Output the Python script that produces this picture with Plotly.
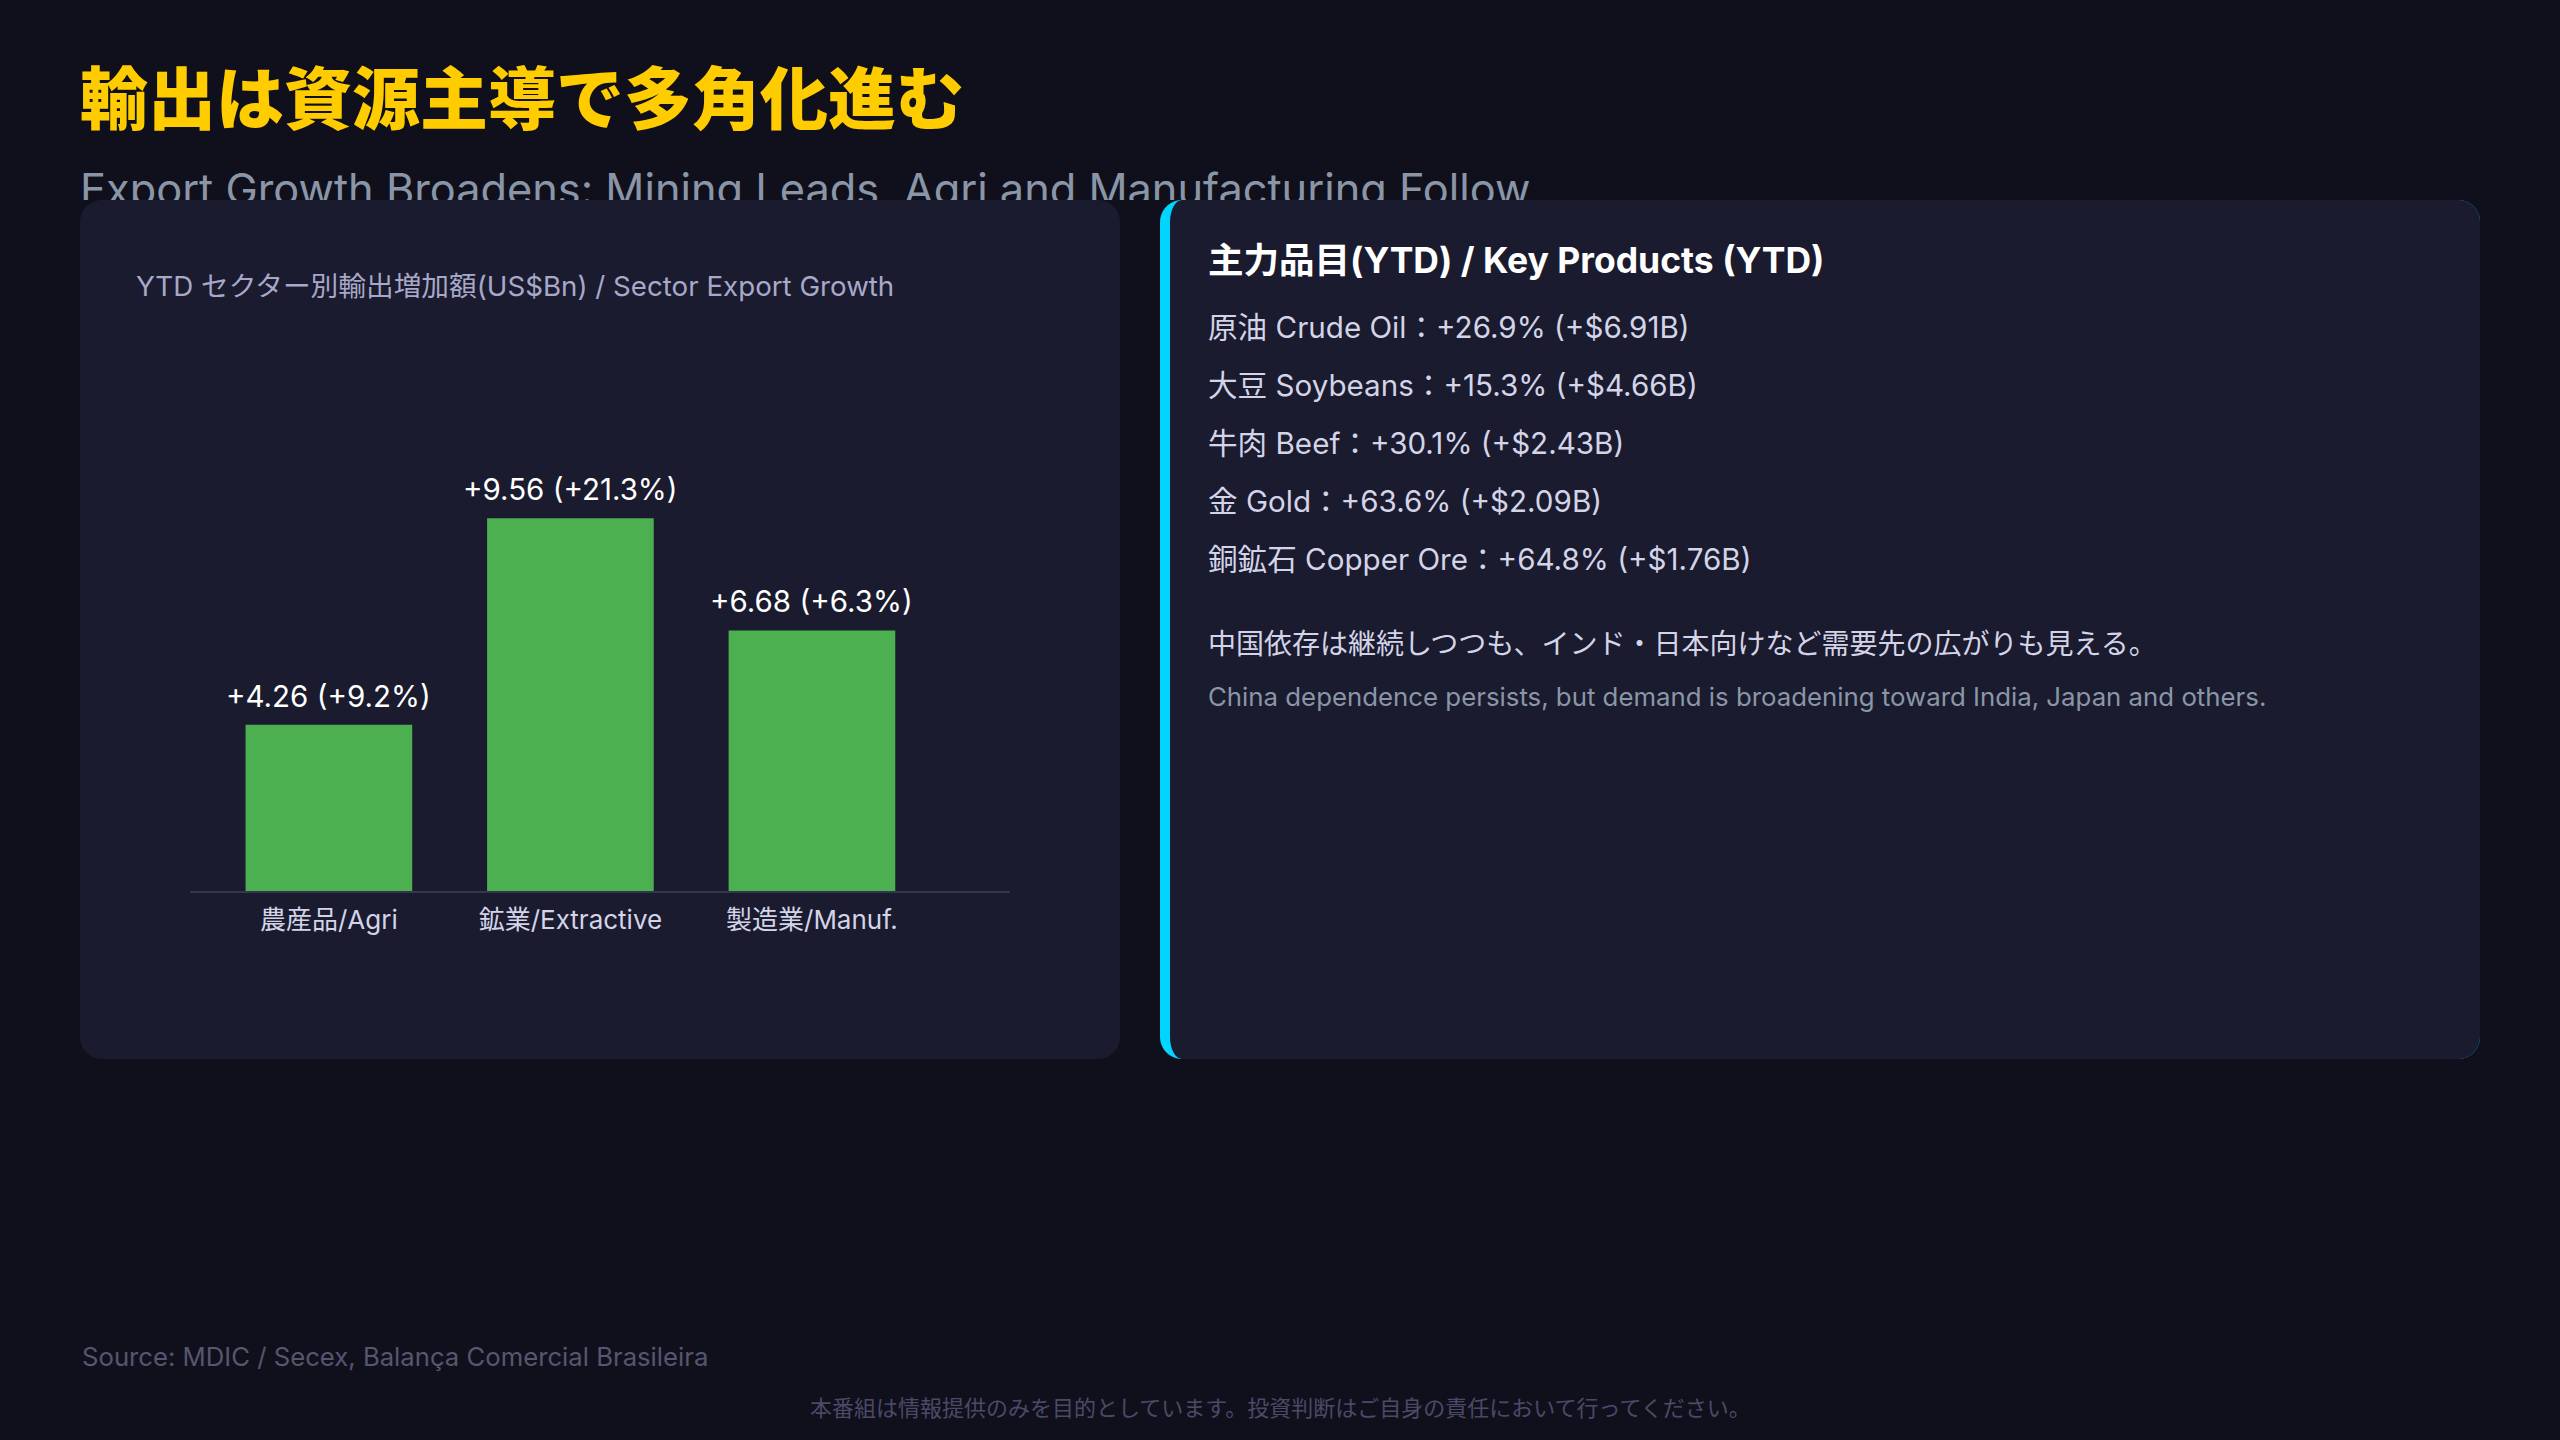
import plotly.graph_objects as go

# ---------------- data ----------------
sectors = ["農産品/Agri", "鉱業/Extractive", "製造業/Manuf."]
growth_bn = [4.26, 9.56, 6.68]
growth_pct = [9.2, 21.3, 6.3]

products_jp = ["原油", "大豆", "牛肉", "金", "銅鉱石"]
products_en = ["Crude Oil", "Soybeans", "Beef", "Gold", "Copper Ore"]
product_pct = [26.9, 15.3, 30.1, 63.6, 64.8]
product_bn = [6.91, 4.66, 2.43, 2.09, 1.76]

title_jp = "輸出は資源主導で多角化進む"
subtitle_en = "Export Growth Broadens: Mining Leads, Agri and Manufacturing Follow"
chart_title = "YTD セクター別輸出増加額(US$Bn) / Sector Export Growth"
panel_heading = "主力品目(YTD) / Key Products (YTD)"
note_jp = "中国依存は継続しつつも、インド・日本向けなど需要先の広がりも見える。"
note_en = "China dependence persists, but demand is broadening toward India, Japan and others."
source_text = "Source: MDIC / Secex, Balança Comercial Brasileira"
disclaimer = "本番組は情報提供のみを目的としています。投資判断はご自身の責任において行ってください。"

# ---------------- style ----------------
W, H = 2560, 1440
BG = "#10101c"
PANEL = "#1a1b2e"
CYAN = "#00d4ff"
GREEN = "#4caf50"
FONT = "Inter, 'Noto Sans CJK JP', sans-serif"


def px(x):
    return x / W


def py(y):
    return 1 - y / H


K = 0.5523


def corner_path(x0, y0, x1, y1, rl_x, rl_y, rr):
    """rounded rectangle in pixel coords (top-down) -> paper path.
    left corners radius (rl_x, rl_y), right corners radius rr"""
    def P(x, y):
        return f"{px(x):.6f},{py(y):.6f}"
    d = []
    d.append("M " + P(x0 + rl_x, y0))
    d.append("L " + P(x1 - rr, y0))
    d.append("C " + P(x1 - rr + K * rr, y0) + " " + P(x1, y0 + rr - K * rr) + " " + P(x1, y0 + rr))
    d.append("L " + P(x1, y1 - rr))
    d.append("C " + P(x1, y1 - rr + K * rr) + " " + P(x1 - rr + K * rr, y1) + " " + P(x1 - rr, y1))
    d.append("L " + P(x0 + rl_x, y1))
    d.append("C " + P(x0 + rl_x - K * rl_x, y1) + " " + P(x0, y1 - rl_y + K * rl_y) + " " + P(x0, y1 - rl_y))
    d.append("L " + P(x0, y0 + rl_y))
    d.append("C " + P(x0, y0 + rl_y - K * rl_y) + " " + P(x0 + rl_x - K * rl_x, y0) + " " + P(x0 + rl_x, y0))
    d.append("Z")
    return " ".join(d)


R = 22
shapes = [
    dict(type="path", xref="paper", yref="paper", layer="below",
         path=corner_path(80, 200, 1120, 1059, R, R, R),
         fillcolor=PANEL, line=dict(width=0)),
    dict(type="path", xref="paper", yref="paper", layer="below",
         path=corner_path(1160, 200, 2480, 1059, R, R, R),
         fillcolor=CYAN, line=dict(width=0)),
    dict(type="path", xref="paper", yref="paper", layer="below",
         path=corner_path(1170, 200, 2480, 1059, R - 10, R, R),
         fillcolor=PANEL, line=dict(width=0)),
]

fig = go.Figure()

# bars
fig.add_trace(go.Bar(
    x=sectors, y=growth_bn,
    marker=dict(color=GREEN, line=dict(width=0)),
    hoverinfo="skip", showlegend=False,
    xaxis="x", yaxis="y",
))

# subtitle as clipped text trace (partially hidden behind panels)
fig.add_trace(go.Scatter(
    x=[80], y=[194], mode="text", text=[subtitle_en],
    textposition="middle right",
    textfont=dict(family=FONT, size=43.3, color="#8a96a8"),
    cliponaxis=True, hoverinfo="skip", showlegend=False,
    xaxis="x2", yaxis="y2",
))

annotations = []


def ann(text, x, y, size, color, xanchor="left", weight="normal"):
    annotations.append(dict(
        text=text, x=px(x), y=py(y), xref="paper", yref="paper",
        xanchor=xanchor, yanchor="middle", showarrow=False,
        font=dict(family=FONT, size=size, color=color, weight=weight),
    ))


ann(title_jp, 78, 99, 68, "#ffcc00", weight=900)
ann(chart_title, 134, 286, 27.7, "#a8a8c8")
ann(panel_heading, 1206, 260, 35.5, "#ffffff", weight="bold")
for i, (jp, en, pc, bn) in enumerate(zip(products_jp, products_en, product_pct, product_bn)):
    ann(f"{jp} {en}：+{pc:.1f}% (+${bn:.2f}B)", 1206, 327 + 58 * i, 29.6, "#d4d4e8")
ann(note_jp, 1206, 644, 28, "#d4d4e8")
ann(note_en, 1206, 696, 25.8, "#8a96a8")
ann(source_text, 80, 1356, 25.7, "#55566f")
ann(disclaimer, 1280, 1408, 22, "#4a4a68", xanchor="center")

# bar value labels
for s, v, p in zip(sectors, growth_bn, growth_pct):
    annotations.append(dict(
        text=f"+{v:.2f} (+{p:.1f}%)", x=s, y=v, xref="x", yref="y",
        xanchor="center", yanchor="bottom", yshift=9, showarrow=False,
        font=dict(family=FONT, size=29.5, color="#ffffff"),
    ))

fig.update_layout(
    width=W, height=H,
    margin=dict(l=0, r=0, t=0, b=0),
    paper_bgcolor=BG, plot_bgcolor="rgba(0,0,0,0)",
    bargap=0.31,
    showlegend=False,
    shapes=shapes,
    annotations=annotations,
    xaxis=dict(
        domain=[px(190), px(1010)], range=[-0.575, 2.82],
        showgrid=False, zeroline=False, showline=True,
        linecolor="#34354f", linewidth=2, ticks="",
        ticklabelstandoff=5,
        tickfont=dict(family=FONT, size=26, color="#d4d4e8"),
        fixedrange=True,
    ),
    yaxis=dict(
        domain=[py(891), py(891 - 12 * 39)], range=[0, 12],
        visible=False, showgrid=False, zeroline=False, fixedrange=True,
    ),
    xaxis2=dict(domain=[0, 1], range=[0, W], visible=False, anchor="y2"),
    yaxis2=dict(domain=[py(200), py(140)], range=[200, 140], visible=False, anchor="x2"),
)

fig.write_html(
    "out.html",
    config={"displayModeBar": False},
    post_script="document.body.style.margin='0';document.body.style.overflow='hidden';",
)
